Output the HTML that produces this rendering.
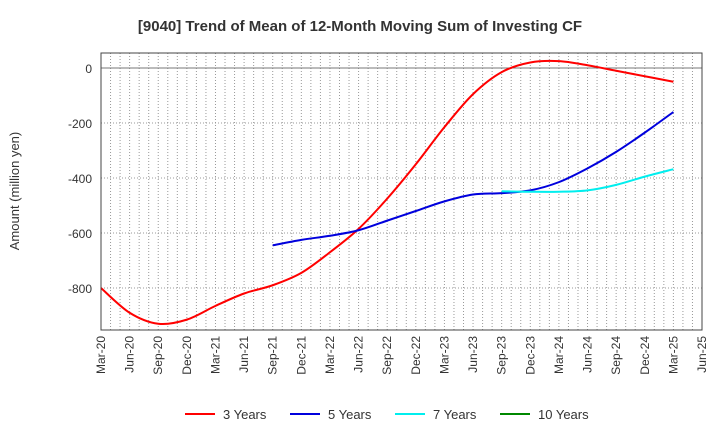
<!DOCTYPE html>
<html><head><meta charset="utf-8"><style>
body{margin:0;background:#fff;font-family:"Liberation Sans",sans-serif}
svg text{font-family:"Liberation Sans",sans-serif}
</style></head><body>
<svg id="chart" width="720" height="440" xmlns="http://www.w3.org/2000/svg">
<text x="360" y="31" text-anchor="middle" font-size="15" font-weight="bold" fill="#333">[9040]  Trend of Mean of 12-Month Moving Sum of Investing CF</text>
<text transform="translate(19,191) rotate(-90)" text-anchor="middle" font-size="13" fill="#333">Amount (million yen)</text>
<g id="grid"></g><g id="series"></g><g id="axes"></g><g id="legend"></g>
</svg>
<script>
const xLabels=["Mar-20","Jun-20","Sep-20","Dec-20","Mar-21","Jun-21","Sep-21","Dec-21","Mar-22","Jun-22","Sep-22","Dec-22","Mar-23","Jun-23","Sep-23","Dec-23","Mar-24","Jun-24","Sep-24","Dec-24","Mar-25","Jun-25"];
const yTicks=[0,-200,-400,-600,-800];
const s3=[-800,-890,-930,-915,-865,-820,-790,-745,-670,-585,-475,-350,-215,-95,-15,20,25,10,-10,-30,-50];
const s5=[null,null,null,null,null,null,-645,-625,-610,-590,-555,-520,-485,-460,-455,-445,-415,-365,-305,-235,-160];
const s7=[null,null,null,null,null,null,null,null,null,null,null,null,null,null,-448,-450,-450,-445,-425,-395,-368];
const s10=[];
const seriesNames=["3 Years","5 Years","7 Years","10 Years"];
const colors=["#ff0000","#0000dd","#00eeee","#008800"];
const L=101,R=702,T=53,B=330;
const ns="http://www.w3.org/2000/svg";
function X(i){return L+i*(R-L)/21;}
function Y(v){return 68-v*55/200;}
function mk(tag,attrs,parent){const e=document.createElementNS(ns,tag);for(const k in attrs)e.setAttribute(k,attrs[k]);parent.appendChild(e);return e;}
const grid=document.getElementById('grid'),axes=document.getElementById('axes'),ser=document.getElementById('series'),leg=document.getElementById('legend');
for(let m=1;m<63;m++){const x=L+m*(R-L)/63;const l=mk('line',{x1:x,x2:x,y1:T,y2:B,stroke:'#999','stroke-dasharray':'1,2','stroke-width':1},grid);
}
yTicks.forEach(v=>{const y=Y(v);const l=mk('line',{x1:L,x2:R,y1:y,y2:y,stroke:v===0?'#777':'#999','stroke-dasharray':v===0?'':'1,2'},grid);

const t=mk('text',{x:L-9,y:y+5,'text-anchor':'end','font-size':12,fill:'#333'},axes);t.textContent=v;
});
const fr=mk('rect',{x:L,y:T,width:R-L,height:B-T,fill:'none',stroke:'#444'},axes);

xLabels.forEach((s,i)=>{const x=X(i);const t=mk('text',{transform:`translate(${x+4},${B+6}) rotate(-90)`,'text-anchor':'end','font-size':12,fill:'#333'},axes);t.textContent=s;
});
function path(arr){const p=[];arr.forEach((v,i)=>{if(v!==null&&v!==undefined)p.push([X(i),Y(v)]);});if(p.length<2)return '';
let d=`M${p[0][0]},${p[0][1]}`;for(let i=0;i<p.length-1;i++){const p0=p[i-1]||p[i],p1=p[i],p2=p[i+1],p3=p[i+2]||p2;
d+=` C${p1[0]+(p2[0]-p0[0])/6},${p1[1]+(p2[1]-p0[1])/6} ${p2[0]-(p3[0]-p1[0])/6},${p2[1]-(p3[1]-p1[1])/6} ${p2[0]},${p2[1]}`;}return d;}
[s3,s5,s7,s10].forEach((a,k)=>{const d=path(a);if(!d)return;const e=mk('path',{d:d,fill:'none',stroke:colors[k],'stroke-width':2},ser);
});
const lx=[185,290,395,500];
seriesNames.forEach((n,k)=>{const g=mk('g',{},leg);
mk('line',{x1:lx[k],x2:lx[k]+30,y1:414,y2:414,stroke:colors[k],'stroke-width':2},g);
const t=mk('text',{x:lx[k]+38,y:419,'font-size':13,fill:'#333'},g);t.textContent=n;});
</script>
</body></html>
